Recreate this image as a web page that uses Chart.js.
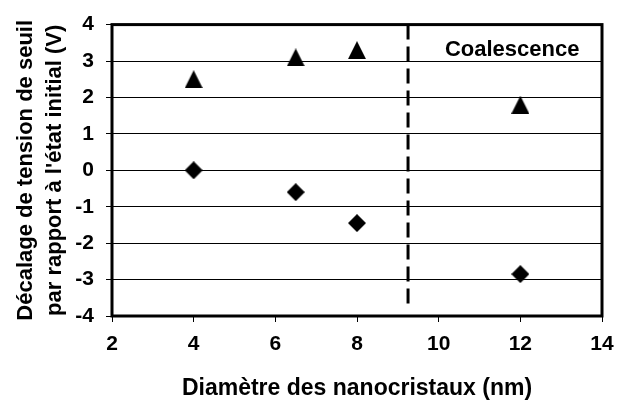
<!DOCTYPE html>
<html>
<head>
<meta charset="utf-8">
<script src="https://cdn.jsdelivr.net/npm/chart.js@4"></script>
<style>
  html, body { margin: 0; padding: 0; background: #fff; }
  #wrap { width: 626px; height: 400px; }
</style>
</head>
<body>
<div id="wrap"><canvas id="chart"></canvas></div>
<script>
// data
const diameters = [4, 6.5, 8, 12];
const triangleValues = [2.5, 3.1, 3.3, 1.8];
const diamondValues = [0, -0.6, -1.45, -2.85];
const limitX = [9.25, 9.25];
const limitY = [4, -3.8];
const labelText = 'Coalescence';
const labelX = 11.8;
const labelY = 3.3;

const FONT = "'Liberation Sans', Arial, sans-serif";

function marker(kind) {
    const c = document.createElement('canvas');
    const ctx = c.getContext('2d');
    c.width = 18; c.height = 18;
    ctx.beginPath();
    if (kind === 'triangle') {
        ctx.moveTo(0, 18); ctx.lineTo(9, 0); ctx.lineTo(18, 18);
    } else {
        ctx.moveTo(9, 0); ctx.lineTo(18, 9); ctx.lineTo(9, 18); ctx.lineTo(0, 9);
    }
    ctx.closePath();
    ctx.fillStyle = '#000';
    ctx.fill();
    return c;
}

const framePlugin = {
    id: 'frame',
    beforeDatasetsDraw(chart) {
        const { ctx, chartArea: a, scales } = chart;
        ctx.save();
        ctx.strokeStyle = '#000';
        ctx.lineWidth = 3;
        ctx.strokeRect(a.left, a.top, a.right - a.left, a.bottom - a.top);
        ctx.fillStyle = '#000';
        ctx.font = 'bold 22px ' + FONT;
        ctx.textAlign = 'center';
        ctx.textBaseline = 'middle';
        ctx.fillText(labelText, scales.x.getPixelForValue(labelX), scales.y.getPixelForValue(labelY));
        ctx.restore();
    }
};

new Chart(document.getElementById('chart'), {
    type: 'scatter',
    data: {
        datasets: [
            {
                data: diameters.map((d, i) => ({ x: d, y: triangleValues[i] })),
                pointStyle: marker('triangle'),
            },
            {
                data: diameters.map((d, i) => ({ x: d, y: diamondValues[i] })),
                pointStyle: marker('diamond'),
            },
            {
                data: limitX.map((x, i) => ({ x: x, y: limitY[i] })),
                showLine: true,
                pointRadius: 0,
                borderColor: '#000',
                borderWidth: 3,
                borderDash: [15, 7],
                borderCapStyle: 'butt',
            }
        ]
    },
    options: {
        responsive: true,
        maintainAspectRatio: false,
        animation: false,
        devicePixelRatio: 1,
        layout: { padding: { top: 24, right: 24, left: 0, bottom: 0 } },
        plugins: { legend: { display: false }, tooltip: { enabled: false } },
        scales: {
            x: {
                type: 'linear', min: 2, max: 14,
                afterFit: s => { s.height = 84; },
                ticks: { stepSize: 2, color: '#000', padding: 10, font: { family: FONT, size: 21, weight: 'bold' } },
                grid: { drawOnChartArea: false, color: '#000', tickLength: 6 },
                border: { display: false },
                title: { display: true, text: 'Diamètre des nanocristaux (nm)', color: '#000', padding: { top: 0, bottom: 0 }, font: { family: FONT, size: 23, weight: 'bold', lineHeight: 1 } }
            },
            y: {
                min: -4, max: 4,
                afterFit: s => { s.width = 112; },
                ticks: { stepSize: 1, color: '#000', padding: 12, font: { family: FONT, size: 21, weight: 'bold' } },
                grid: { color: '#000', lineWidth: 1, tickLength: 6 },
                border: { display: false },
                title: { display: true, text: ['Décalage de tension de seuil', "par rapport à l'état initial (V)"], color: '#000', padding: { top: 11.5, bottom: 0 }, font: { family: FONT, size: 22, weight: 'bold', lineHeight: 1.32 } }
            }
        }
    },
    plugins: [framePlugin]
});
</script>
</body>
</html>
